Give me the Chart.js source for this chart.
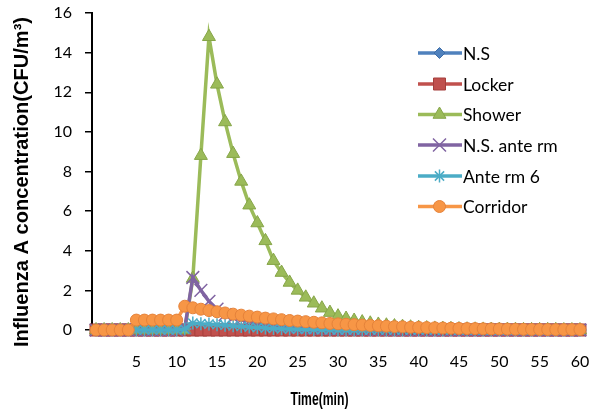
<!DOCTYPE html>
<html><head><meta charset="utf-8">
<script src="https://cdn.jsdelivr.net/npm/chart.js@4.4.0/dist/chart.umd.min.js"></script>
<style>html,body{margin:0;padding:0;background:#fff;}canvas{display:block;}</style>
</head><body>
<canvas id="c" width="598" height="414"></canvas>
<script>
// ---- data ----
const minutes = ['0','1','2','3','4','5','6','7','8','9','10','11','12','13','14','15','16','17','18','19','20',
  '21','22','23','24','25','26','27','28','29','30','31','32','33','34','35','36','37','38','39','40',
  '41','42','43','44','45','46','47','48','49','50','51','52','53','54','55','56','57','58','59','60'];
const xTickLabels = ['5','10','15','20','25','30','35','40','45','50','55','60'];
const yTickValues = [0,2,4,6,8,10,12,14,16];
const seriesNames = ['N.S','Locker','Shower','N.S. ante rm','Ante rm 6','Corridor'];

const nsValues = [0,0,0,0,0,0,0,0,0,0,0,0,0,0,0,0,0,0,0,0,0,
  0,0,0,0,0,0,0,0,0,0,0,0,0,0,0,0,0,0,0,0,
  0,0,0,0,0,0,0,0,0,0,0,0,0,0,0,0,0,0,0,0];
const lockerValues = [0,0,0,0,0,0,0,0,0,0,0,0,0,0,0,0,0,0,0,0,0,
  0,0,0,0,0,0,0,0,0,0,0,0,0,0,0,0,0,0,0,0,
  0,0,0,0,0,0,0,0,0,0,0,0,0,0,0,0,0,0,0,0];
const showerValues = [0,0,0,0,0,0,0,0,0,0,0,0,2.6,8.8,14.8,12.4,10.5,8.9,7.5,6.3,5.4,
  4.5,3.5,2.9,2.4,2.0,1.65,1.35,1.1,0.88,0.7,0.58,0.48,0.4,0.34,0.28,0.24,0.2,0.17,0.14,0.12,
  0.1,0.08,0.07,0.06,0.05,0.04,0.035,0.03,0.025,0.02,0.02,0.015,0.01,0.01,0.01,0.01,0.01,0,0,0];
const nsAnteValues = [0,0,0,0,0,0,0,0,0,0,0,0.1,2.65,2.0,1.45,1.05,0.78,0.62,0.52,0.44,0.37,
  0.31,0.26,0.22,0.18,0.15,0.12,0.1,0.08,0.07,0.06,0.05,0.04,0.03,0.03,0.02,0.02,0.01,0.01,0.01,0.01,
  0,0,0,0,0,0,0,0,0,0,0,0,0,0,0,0,0,0,0,0];
const ante6Values = [0,0,0,0,0,0,0,0,0,0,0,0.05,0.35,0.32,0.3,0.27,0.24,0.21,0.18,0.15,0.12,
  0.1,0.08,0.06,0.05,0.04,0.03,0.02,0.015,0.01,0,0,0,0,0,0,0,0,0,0,0,
  0,0,0,0,0,0,0,0,0,0,0,0,0,0,0,0,0,0,0,0];
const corridorValues = [0,0,0,0,0,0.5,0.5,0.5,0.5,0.5,0.5,1.2,1.12,1.05,0.98,0.92,0.86,0.8,0.75,0.7,0.65,
  0.6,0.56,0.52,0.48,0.45,0.42,0.39,0.36,0.33,0.31,0.29,0.27,0.25,0.23,0.21,0.19,0.17,0.16,0.14,0.13,
  0.12,0.11,0.1,0.09,0.08,0.075,0.07,0.06,0.055,0.05,0.045,0.04,0.035,0.03,0.03,0.025,0.02,0.02,0.02,0.02];

// ---- styles ----
const styles = [
  {color:'#4F81BD', border:'#3D6DA8', point:'rectRot', r:5.5, bw:1},
  {color:'#C0504D', border:'#A53F3C', point:'rect', r:8.5, bw:1},
  {color:'#9BBB59', border:'#86A548', point:'triangle', r:7.5, bw:1},
  {color:'#8064A2', border:'#8064A2', point:'crossRot', r:9, bw:1.5},
  {color:'#4BACC6', border:'#4BACC6', point:'star', r:6.5, bw:1.5},
  {color:'#F79646', border:'#E5823A', point:'circle', r:6, bw:1}
];
const allValues = [nsValues, lockerValues, showerValues, nsAnteValues, ante6Values, corridorValues];

const datasets = seriesNames.map((name, i) => ({
  label: name,
  data: allValues[i],
  borderColor: styles[i].color,
  backgroundColor: styles[i].color,
  borderWidth: 3.5,
  tension: 0,
  pointStyle: styles[i].point,
  pointRadius: styles[i].r,
  pointHoverRadius: styles[i].r,
  pointBackgroundColor: styles[i].color,
  pointBorderColor: styles[i].border,
  pointBorderWidth: styles[i].bw,
  order: seriesNames.length - i,
  clip: false
}));

function fitText(ctx, text, font, cx, cy, len, rot) {
  ctx.save();
  ctx.font = font; ctx.fillStyle = '#000';
  ctx.textAlign = 'center'; ctx.textBaseline = 'middle';
  const w = ctx.measureText(text).width;
  ctx.translate(cx, cy); ctx.rotate(rot); ctx.scale(len / w, 1);
  ctx.fillText(text, 0, 0);
  ctx.restore();
}

function drawMarker(ctx, st, x, y) {
  ctx.save();
  ctx.fillStyle = st.color; ctx.strokeStyle = st.border; ctx.lineWidth = st.bw;
  ctx.beginPath();
  if (st.point === 'rectRot') {
    const r = 5.5;
    ctx.moveTo(x, y - r); ctx.lineTo(x + r, y); ctx.lineTo(x, y + r); ctx.lineTo(x - r, y); ctx.closePath();
    ctx.fill(); ctx.stroke();
  } else if (st.point === 'rect') {
    const s = 6;
    ctx.rect(x - s, y - s, 2 * s, 2 * s); ctx.fill(); ctx.stroke();
  } else if (st.point === 'triangle') {
    const r = 7.5;
    ctx.moveTo(x, y - r); ctx.lineTo(x + 0.866 * r, y + 0.5 * r); ctx.lineTo(x - 0.866 * r, y + 0.5 * r); ctx.closePath();
    ctx.fill(); ctx.stroke();
  } else if (st.point === 'crossRot') {
    const d = 6.5;
    ctx.moveTo(x - d, y - d); ctx.lineTo(x + d, y + d); ctx.moveTo(x + d, y - d); ctx.lineTo(x - d, y + d);
    ctx.stroke();
  } else if (st.point === 'star') {
    const r = 6.5, d = 4.6;
    ctx.moveTo(x, y - r); ctx.lineTo(x, y + r); ctx.moveTo(x - r, y); ctx.lineTo(x + r, y);
    ctx.moveTo(x - d, y - d); ctx.lineTo(x + d, y + d); ctx.moveTo(x + d, y - d); ctx.lineTo(x - d, y + d);
    ctx.stroke();
  } else {
    ctx.arc(x, y, 6, 0, Math.PI * 2); ctx.fill(); ctx.stroke();
  }
  ctx.restore();
}

const overlay = {
  id: 'overlay',
  afterDraw(chart) {
    const ctx = chart.ctx;
    fitText(ctx, 'Influenza A concentration(CFU/m\u00B3)', 'bold 20px "Liberation Sans", Arial, sans-serif', 22.5, 182, 330, -Math.PI / 2);
    fitText(ctx, 'Time(min)', 'bold 18px "Liberation Sans", Arial, sans-serif', 319.5, 400, 58, 0);
    // legend
    const rows = [53, 84, 114.5, 145, 176, 206.5];
    seriesNames.forEach((name, i) => {
      const y = rows[i], st = styles[i];
      ctx.save();
      ctx.strokeStyle = st.color; ctx.lineWidth = 3.5;
      ctx.beginPath(); ctx.moveTo(418, y); ctx.lineTo(462, y); ctx.stroke();
      ctx.restore();
      drawMarker(ctx, st, 439.5, y);
      ctx.save();
      ctx.font = '17.5px Lato, "Open Sans", sans-serif';
      ctx.fillStyle = '#000'; ctx.textAlign = 'left'; ctx.textBaseline = 'middle';
      ctx.fillText(name, 463, y + 1);
      ctx.restore();
    });
  }
};

new Chart(document.getElementById('c'), {
  type: 'line',
  data: { labels: minutes, datasets: datasets },
  options: {
    responsive: false,
    animation: false,
    events: [],
    layout: { autoPadding: false, padding: { left: 0, right: 14, top: 13, bottom: 0 } },
    plugins: { legend: { display: false }, tooltip: { enabled: false }, title: { display: false } },
    scales: {
      x: {
        type: 'category',
        offset: true,
        grid: { display: false, drawTicks: false },
        border: { display: true, color: '#000', width: 1.5 },
        ticks: {
          autoSkip: false, maxRotation: 0, minRotation: 0, padding: 22,
          color: '#000', font: { family: 'Lato', size: 16 },
          callback: function (value) {
            const lab = this.getLabelForValue(value);
            return xTickLabels.includes(lab) ? lab : '';
          }
        },
        afterFit: (s) => { s.height = 84; s.paddingLeft = 0; s.paddingRight = 0; }
      },
      y: {
        min: 0, max: 16,
        grid: { display: true, drawOnChartArea: false, drawTicks: true, tickLength: 7, color: '#000', lineWidth: 1.5 },
        border: { display: true, color: '#000', width: 2 },
        ticks: {
          stepSize: 2, padding: 13, color: '#000', font: { family: 'Lato', size: 16 },
          callback: (v) => yTickValues.includes(v) ? String(v) : ''
        },
        afterFit: (s) => { s.width = 92; s.paddingTop = 0; s.paddingBottom = 0; }
      }
    }
  },
  plugins: [overlay]
});
</script>
</body></html>
